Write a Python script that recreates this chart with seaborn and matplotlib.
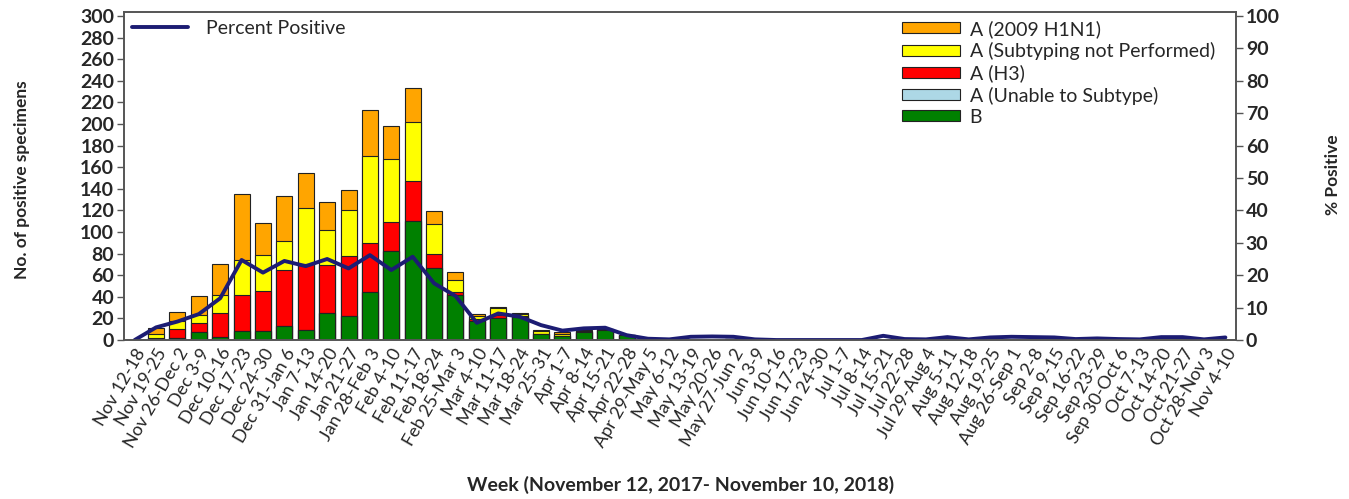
import numpy as np
import pandas as pd
import seaborn as sns
import matplotlib.pyplot as plt
from matplotlib.patches import Patch
from matplotlib.lines import Line2D

weeks = [
    "Nov 12-18", "Nov 19-25", "Nov 26-Dec 2", "Dec 3-9", "Dec 10-16", "Dec 17-23",
    "Dec 24-30", "Dec 31-Jan 6", "Jan 7-13", "Jan 14-20", "Jan 21-27", "Jan 28-Feb 3",
    "Feb 4-10", "Feb 11-17", "Feb 18-24", "Feb 25-Mar 3", "Mar 4-10", "Mar 11-17",
    "Mar 18-24", "Mar 25-31", "Apr 1-7", "Apr 8-14", "Apr 15-21", "Apr 22-28",
    "Apr 29-May 5", "May 6-12", "May 13-19", "May 20-26", "May 27-Jun 2", "Jun 3-9",
    "Jun 10-16", "Jun 17-23", "Jun 24-30", "Jul 1-7", "Jul 8-14", "Jul 15-21",
    "Jul 22-28", "Jul 29-Aug 4", "Aug 5-11", "Aug 12-18", "Aug 19-25", "Aug 26-Sep 1",
    "Sep 2-8", "Sep 9-15", "Sep 16-22", "Sep 23-29", "Sep 30-Oct 6", "Oct 7-13",
    "Oct 14-20", "Oct 21-27", "Oct 28-Nov 3", "Nov 4-10",
]

flu_b = [0, 0, 2, 7, 3, 8, 8, 13, 9, 25, 22, 44, 82, 110, 67, 42, 18, 20, 21, 6,
         4, 7, 9, 5, 1, 0, 0, 0, 1, 0, 0, 0, 0, 0, 0, 0, 0, 0, 0, 0,
         0, 0, 0, 0, 0, 0, 0, 0, 0, 0, 0, 0]
a_unable = [0, 0, 0, 0, 0, 0, 0, 0, 0, 0, 0, 0, 0, 0, 0, 0, 0, 0, 0, 0,
            0, 0, 0, 0, 0, 0, 0, 0, 0, 0, 0, 0, 0, 0, 0, 0, 0, 0, 0, 0,
            0, 0, 0, 0, 0, 0, 0, 0, 0, 0, 0, 0]
a_h3 = [0, 2, 8, 9, 22, 34, 37, 52, 61, 44, 56, 46, 27, 37, 13, 2, 1, 3, 1, 0,
        0, 0, 0, 0, 0, 0, 0, 0, 0, 0, 0, 0, 0, 0, 0, 0, 0, 0, 0, 0,
        0, 0, 0, 0, 0, 0, 0, 0, 0, 0, 0, 0]
a_not_sub = [0, 4, 8, 7, 17, 32, 34, 27, 52, 33, 42, 80, 59, 55, 27, 12, 3, 7, 2, 2,
             2, 1, 1, 0, 0, 0, 0, 0, 0, 0, 0, 0, 0, 0, 0, 0, 0, 0, 0, 0,
             0, 0, 0, 0, 0, 0, 0, 0, 0, 0, 0, 0]
a_h1n1 = [0, 5, 8, 18, 28, 61, 29, 41, 33, 26, 19, 43, 30, 31, 12, 7, 2, 1, 1, 1,
          1, 1, 0, 0, 0, 0, 0, 0, 0, 0, 0, 0, 0, 0, 0, 0, 0, 0, 0, 0,
          0, 0, 0, 0, 0, 0, 0, 0, 0, 0, 0, 0]
pct_positive = [0, 3.9, 5.7, 8.0, 12.9, 24.7, 20.8, 24.4, 22.8, 25.0, 22.1, 26.2,
                21.6, 25.7, 17.5, 13.6, 5.3, 8.2, 7.2, 4.6, 2.9, 3.6, 3.8, 1.5,
                0.4, 0.2, 1.0, 1.1, 1.0, 0.2, 0, 0, 0, 0, 0, 1.3,
                0.3, 0.2, 0.9, 0.2, 0.8, 1.0, 0.9, 0.8, 0.3, 0.5, 0.3, 0.2,
                0.9, 0.9, 0.2, 0.8]

series = [
    ("A (2009 H1N1)", a_h1n1, "#FFA500"),
    ("A (Subtyping not Performed)", a_not_sub, "#FFFF00"),
    ("A (H3)", a_h3, "#FF0000"),
    ("A (Unable to Subtype)", a_unable, "#ADD8E6"),
    ("B", flu_b, "#008000"),
]

df = pd.DataFrame({"week": weeks, "B": flu_b, "unable": a_unable, "h3": a_h3,
                   "not_sub": a_not_sub, "h1n1": a_h1n1, "pct": pct_positive})

sns.set_style("white")
plt.rcParams["font.family"] = ["Lato", "DejaVu Sans"]

fig, ax = plt.subplots(figsize=(13.49, 4.99), dpi=100)
fig.subplots_adjust(left=0.0919, right=0.9163, top=0.976, bottom=0.3186)

# stacked bars drawn as overlapping cumulative totals, top layer first
stack_cols = ["B", "unable", "h3", "not_sub", "h1n1"]
cum = df[stack_cols].cumsum(axis=1)
for (label, _, color), col in zip(series, stack_cols[::-1]):
    sns.barplot(x=df["week"], y=cum[col], color=color, edgecolor="#222222",
                linewidth=0.8, width=0.75, saturation=1, ax=ax)

ax.set_xlim(-0.5, len(weeks) - 0.5)
ax.set_ylim(0, 303.7)
ax.set_yticks(range(0, 301, 20))
ax.tick_params(axis="y", labelsize=14, length=5, width=1, color="#555555",
               left=True, pad=2)
for t in ax.get_yticklabels():
    t.set_fontweight("bold")
ax.set_xticks(range(len(weeks)))
ax.set_xticklabels(weeks, rotation=60, ha="right", rotation_mode="anchor",
                   fontsize=13)
ax.tick_params(axis="x", length=0, pad=4)
ax.set_xlabel("")
ax.set_ylabel("")
for s in ax.spines.values():
    s.set_color("#555555")
    s.set_linewidth(1.2)

ax2 = ax.twinx()
sns.lineplot(x=np.arange(len(weeks)), y=df["pct"], color="#1c1c73", linewidth=2.8,
             ax=ax2)
ax2.set_ylim(0, 101.23)
ax2.set_yticks(range(0, 101, 10))
ax2.tick_params(axis="y", labelsize=14, length=5, width=1, color="#555555",
                right=True, pad=2)
for t in ax2.get_yticklabels():
    t.set_fontweight("bold")
ax2.set_ylabel("")
ax2.set_xlim(-0.5, len(weeks) - 0.5)
for s in ax2.spines.values():
    s.set_color("#555555")
    s.set_linewidth(1.2)

fig.text(22 / 1349, 1 - 180 / 499, "No. of positive specimens", rotation=90,
         ha="center", va="center", fontsize=12.5, fontweight="bold")
fig.text(1333 / 1349, 1 - 175 / 499, "% Positive", rotation=90,
         ha="center", va="center", fontsize=12.5, fontweight="bold")
fig.text(681 / 1349, 1 - 485 / 499, "Week (November 12, 2017- November 10, 2018)",
         ha="center", va="center", fontsize=14, fontweight="bold")

line_handle = [Line2D([0], [0], color="#1c1c73", linewidth=2.8)]
leg1 = ax2.legend(line_handle, ["Percent Positive"], loc="upper left",
                  bbox_to_anchor=(0.0, 1.0), frameon=False, fontsize=14,
                  handlelength=2.9, handletextpad=0.9, borderaxespad=0.0)
ax2.add_artist(leg1)

patches = [Patch(facecolor=c, edgecolor="#222222", linewidth=0.8, label=l)
           for l, _, c in series]
ax2.legend(handles=patches, loc="upper right", bbox_to_anchor=(0.988, 1.0),
           frameon=False, fontsize=14, handlelength=3.0, handleheight=0.5,
           handletextpad=0.5, labelspacing=0.22, borderaxespad=0.0)

fig.savefig("out.png", dpi=100)
